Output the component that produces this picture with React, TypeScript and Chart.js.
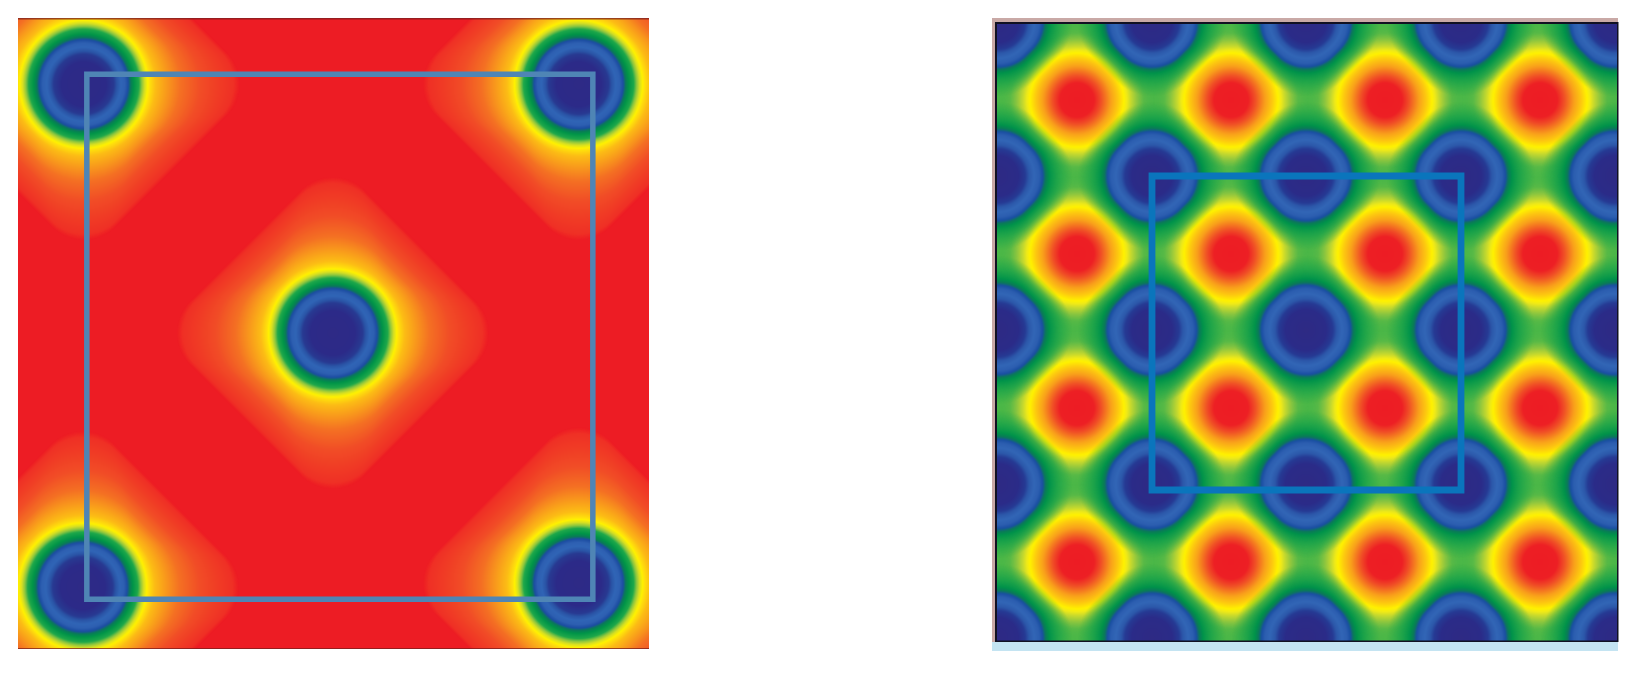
import React, { useEffect, useRef } from "react";
import { Chart, registerables } from "chart.js";

Chart.register(...registerables);

// Box corners, in lattice units
const boxX = [0, 1, 1, 0, 0];
const boxY = [0, 0, 1, 1, 0];

// Left panel: wells
const leftWellX = [-0.006, 0.972, 0.486, -0.008, 0.972];
const leftWellY = [0.981, 0.981, 0.507, 0.023, 0.03];

// Right panel: blue wells and red peaks on a lattice
const blueX = [-0.498, 0, 0.498, 1, 1.498];
const blueY = [1.49, 1, 0.51, 0.019, -0.471];
const redX = [-0.243, 0.256, 0.754, 1.256];
const redY = [1.242, 0.752, 0.261, -0.229];

// Contour levels: distance from the centre (px), colour
const leftRadii = [0, 22, 30, 33, 37, 41, 44.5, 47, 50, 55, 58, 61, 64, 66, 72, 85, 97, 117, 135, 150, 156];
const leftColours = ["#2e2a86", "#2c2a88", "#283a92", "#2a54a6", "#3065b6", "#2e60b2", "#1c4da2", "#0a7a58", "#009448", "#1ea84a", "#8cc63f", "#d7df23", "#fff200", "#ffe00c", "#fcbc15", "#f8941d", "#f47023", "#f14d26", "#f03c25", "#ef3025", "rgba(240,44,36,0)"];
const blueRadii = [0, 20, 27, 31, 36, 41, 44.5, 47.5, 51, 60, 74];
const blueColours = ["#2e2a84", "#2b2b88", "#263a94", "#2c58aa", "#3266b6", "#2c5eb0", "#1a4fa2", "#0a7a58", "#00924a", "rgba(20,160,74,0.75)", "rgba(30,165,74,0)"];
const redRadii = [0, 17, 24, 34, 41, 47, 50, 54, 60, 67, 78];
const redColours = ["#ed1c24", "#ed1f24", "#f04e26", "#f9a01b", "#fdc810", "#fff200", "#f0ea18", "#c6d92e", "#8dc63f", "rgba(90,185,70,0.85)", "rgba(70,180,72,0)"];

// How far each contour departs from a circle: contour radius -> straight-edge half diagonal
const leftShapeR = [66, 85, 113, 135, 156];
const leftShapeH = [0, 18, 52, 82, 112];
const blueShapeR = [25, 45, 60, 74];
const blueShapeH = [0, 6, 14, 24];
const redShapeR = [30, 50, 64, 78];
const redShapeH = [0, 6, 12, 20];

const parse = (c: string) => {
  if (c[0] === "#") return [parseInt(c.slice(1, 3), 16), parseInt(c.slice(3, 5), 16), parseInt(c.slice(5, 7), 16), 1];
  const m = c.match(/[\d.]+/g)!.map(Number);
  return [m[0], m[1], m[2], m[3]];
};

const lookup = (r: number, xs: number[], ys: number[]) => {
  if (r <= xs[0]) return ys[0];
  for (let i = 1; i < xs.length; i++) {
    if (r <= xs[i]) return ys[i - 1] + ((ys[i] - ys[i - 1]) * (r - xs[i - 1])) / (xs[i] - xs[i - 1]);
  }
  return ys[ys.length - 1];
};

const makeWell = (radii: number[], colours: string[], shapeR: number[], shapeH: number[]) => {
  const rgba = colours.map(parse);
  const R = Math.ceil(radii[radii.length - 1]) + 1;
  const cv = document.createElement("canvas");
  cv.width = cv.height = 2 * R + 1;
  const ctx = cv.getContext("2d")!;
  const img = ctx.createImageData(cv.width, cv.height);
  for (let j = 0; j < cv.height; j++) {
    for (let i = 0; i < cv.width; i++) {
      const a = Math.abs(i - R), b = Math.abs(j - R);
      const u = (a + b) / Math.SQRT2, v = Math.abs(a - b) / Math.SQRT2;
      let lo = 0, hi = R * 1.5;
      for (let k = 0; k < 16; k++) {
        const r = (lo + hi) / 2;
        const h = lookup(r, shapeR, shapeH);
        const s = h / Math.SQRT2;
        const dist = Math.hypot(Math.max(u - s, 0), Math.max(v - s, 0));
        if (dist > r - h) lo = r; else hi = r;
      }
      const r = (lo + hi) / 2;
      let s = 0;
      while (s < radii.length - 2 && r > radii[s + 1]) s++;
      const t = Math.min(1, Math.max(0, (r - radii[s]) / (radii[s + 1] - radii[s])));
      const c0 = rgba[s], c1 = rgba[s + 1];
      const o = (j * cv.width + i) * 4;
      img.data[o] = c0[0] + (c1[0] - c0[0]) * t;
      img.data[o + 1] = c0[1] + (c1[1] - c0[1]) * t;
      img.data[o + 2] = c0[2] + (c1[2] - c0[2]) * t;
      img.data[o + 3] = 255 * (c0[3] + (c1[3] - c0[3]) * t);
    }
  }
  ctx.putImageData(img, 0, 0);
  return cv;
};

const toPoints = (xs: number[], ys: number[]) => xs.map((x, i) => ({ x, y: ys[i] }));
const grid = (xs: number[], ys: number[]) => ys.flatMap((y) => xs.map((x) => ({ x, y })));

const panelPlugin = (fill: string, frame: (c: any) => void) => ({
  id: "panel",
  beforeDatasetsDraw(chart: any) {
    const { ctx, chartArea: a } = chart;
    ctx.save();
    ctx.fillStyle = fill;
    ctx.fillRect(a.left, a.top, a.right - a.left, a.bottom - a.top);
    ctx.restore();
  },
  afterDatasetsDraw(chart: any) {
    chart.ctx.save();
    frame(chart);
    chart.ctx.restore();
  },
});

const baseOptions = (xMin: number, xMax: number, yMin: number, yMax: number, padding: any) => ({
  responsive: false,
  animation: false as const,
  events: [] as string[],
  layout: { padding },
  plugins: { legend: { display: false }, tooltip: { enabled: false } },
  scales: {
    x: { type: "linear" as const, min: xMin, max: xMax, display: false },
    y: { type: "linear" as const, min: yMin, max: yMax, display: false },
  },
});

const boxStyle = { showLine: true, pointRadius: 0, pointHoverRadius: 0, borderJoinStyle: "miter", borderCapStyle: "square", clip: false };
const wellStyle = { pointRadius: 1, pointHoverRadius: 1, clip: 0 };

export default function App() {
  const leftRef = useRef<HTMLCanvasElement>(null);
  const rightRef = useRef<HTMLCanvasElement>(null);

  useEffect(() => {
    const leftWell = makeWell(leftRadii, leftColours, leftShapeR, leftShapeH);
    const blueWell = makeWell(blueRadii, blueColours, blueShapeR, blueShapeH);
    const redWell = makeWell(redRadii, redColours, redShapeR, redShapeH);

    const left = new Chart(leftRef.current!, {
      type: "scatter",
      data: {
        datasets: [
          { ...boxStyle, data: toPoints(boxX, boxY), borderColor: "#4f85b5", borderWidth: 5.5 } as any,
          { ...wellStyle, data: toPoints(leftWellX, leftWellY), pointStyle: leftWell } as any,
        ],
      },
      options: baseOptions(-0.136, 1.111, -0.095, 1.107, 10) as any,
      plugins: [
        panelPlugin("#ed1c24", ({ ctx, chartArea: a }: any) => {
          ctx.fillStyle = "rgba(120,30,30,0.75)";
          ctx.fillRect(a.left, a.top, a.right - a.left, 1.5);
          ctx.fillRect(a.left, a.bottom - 1, a.right - a.left, 1);
        }),
      ],
    });

    const right = new Chart(rightRef.current!, {
      type: "scatter",
      data: {
        datasets: [
          { ...boxStyle, data: toPoints(boxX, boxY), borderColor: "#0a75bc", borderWidth: 6.8 } as any,
          { ...wellStyle, data: grid(blueX, blueY), pointStyle: blueWell } as any,
          { ...wellStyle, data: grid(redX, redY), pointStyle: redWell } as any,
        ],
      },
      options: baseOptions((995 - 1152) / 309, (1618 - 1152) / 309, (490 - 642) / 314, (490 - 22) / 314, { left: 13, top: 14, right: 12, bottom: 20 }) as any,
      plugins: [
        panelPlugin("#4cb848", ({ ctx, chartArea: a }: any) => {
          ctx.fillStyle = "#c9a9a6";
          ctx.fillRect(a.left - 3, a.top - 4, a.right - a.left + 3, 4);
          ctx.fillRect(a.left - 3, a.top - 4, 3, a.bottom - a.top + 4);
          ctx.fillStyle = "#111122";
          ctx.fillRect(a.left, a.top, a.right - a.left, 2);
          ctx.fillRect(a.left, a.top, 2, a.bottom - a.top);
          ctx.fillRect(a.right - 1, a.top, 1.5, a.bottom - a.top);
          ctx.fillRect(a.left, a.bottom - 1.5, a.right - a.left, 1.5);
          ctx.fillStyle = "#c4e4f2";
          ctx.fillRect(a.left - 3, a.bottom, a.right - a.left + 3, 9);
        }),
      ],
    });

    return () => {
      left.destroy();
      right.destroy();
    };
  }, []);

  return (
    <div style={{ position: "fixed", inset: 0, background: "#fff" }}>
      <canvas ref={leftRef} width={651} height={651} style={{ position: "absolute", left: 8, top: 8, width: 651, height: 651 }} />
      <canvas ref={rightRef} width={648} height={654} style={{ position: "absolute", left: 982, top: 8, width: 648, height: 654 }} />
    </div>
  );
}
